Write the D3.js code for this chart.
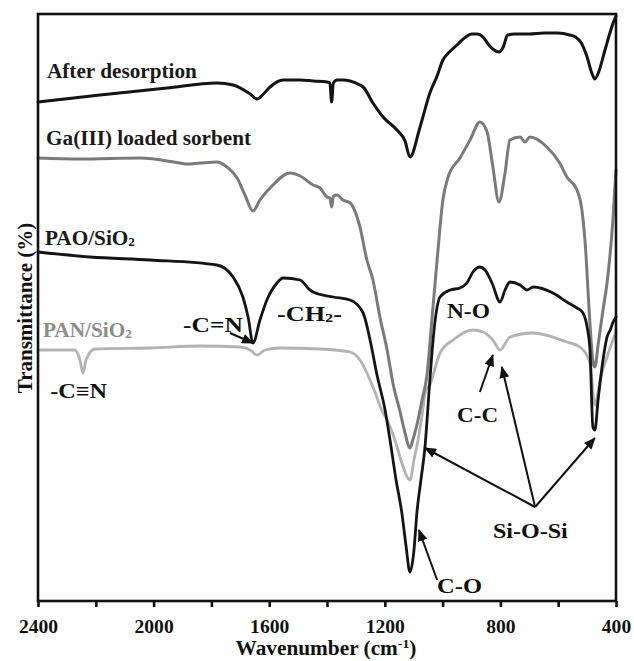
<!DOCTYPE html>
<html>
<head>
<meta charset="utf-8">
<script src="https://cdn.jsdelivr.net/npm/d3@7"></script>
<style>
  html, body { margin: 0; padding: 0; background: #fff; }
  svg text { font-family: "Liberation Serif", "Times New Roman", serif; font-weight: bold; }
</style>
</head>
<body>
<svg id="chart" width="634" height="661"></svg>
<script>
// FTIR spectra: [wavenumber (cm-1), transmittance (a.u., stacked offsets)]
const afterDesorption = [
  [2400,499],[2185,506],[1954,513],[1781,518],[1725,516],[1666,507],[1642,502],[1620,507],
  [1597,514],[1552,521],[1493,521],[1448,520],[1400,519],[1390,518],[1384,499],[1378,518],
  [1365,521],[1345,521],[1320,520],[1286,516],[1275,514],[1241,498],[1206,484],[1158,471],
  [1130,460],[1113,444],[1078,474],[1044,508],[1019,525],[999,541],[980,548],[950,556],
  [920,564],[900,567],[880,567],[860,564],[840,556],[822,551],[805,549],[790,554],[775,566],
  [750,567],[700,567],[650,568],[600,568],[560,566],[540,564],[520,558],[500,544],[485,529],
  [473,522],[460,529],[440,549],[420,569],[410,578],[400,585]
];

const gaLoaded = [
  [2400,443],[2255,442],[2047,443],[1909,438],[1885,437],[1839,438],[1781,439],[1746,434],
  [1711,423],[1684,406],[1656,390],[1632,401],[1587,416],[1528,428],[1493,425],[1448,416],
  [1424,413],[1400,404],[1390,403],[1384,394],[1378,405],[1365,406],[1345,401],[1320,398],
  [1286,374],[1262,341],[1241,321],[1217,284],[1192,251],[1172,218],[1147,189],[1130,168],
  [1113,153],[1103,161],[1089,176],[1071,201],[1054,226],[1037,281],[1019,341],[999,401],
  [981,424],[940,443],[905,461],[871,479],[846,469],[826,434],[805,399],[784,428],
  [767,461],[732,464],[715,459],[698,464],[639,454],[595,438],[570,424],[535,411],[518,391],
  [505,351],[495,301],[485,256],[478,236],[473,234],[462,256],[445,291],[431,318],[410,384],
  [400,431]
];

const paoSiO2 = [
  [2400,349],[2220,344],[2012,341],[1781,336],[1725,324],[1691,304],[1673,284],[1656,258],
  [1632,281],[1608,301],[1573,318],[1552,323],[1493,321],[1459,311],[1448,309],[1379,304],
  [1320,301],[1275,288],[1251,261],[1227,226],[1199,191],[1182,161],[1161,121],[1141,88],
  [1127,56],[1113,29],[1099,51],[1089,88],[1075,121],[1061,154],[1044,221],[1033,261],
  [1009,304],[974,311],[940,313],[916,318],[895,329],[871,334],[853,331],[829,318],[801,299],
  [784,311],[767,319],[732,316],[708,311],[687,314],[618,308],[570,299],[535,293],[514,288],
  [500,274],[490,251],[480,174],[473,171],[462,201],[445,241],[431,264],[420,271],[410,279],
  [400,284]
];

const panSiO2 = [
  [2400,251],[2272,251],[2255,241],[2244,228],[2234,241],[2203,252],[2012,253],[1839,255],
  [1701,254],[1666,251],[1642,246],[1615,251],[1563,253],[1424,252],[1320,249],[1286,241],
  [1241,214],[1206,188],[1192,181],[1165,161],[1141,138],[1113,121],[1099,141],[1085,161],
  [1071,186],[1058,211],[1044,216],[1020,239],[1009,248],[964,261],[895,271],[860,269],
  [826,261],[801,251],[767,264],[687,268],[570,259],[525,254],[490,238],[473,196],[455,221],
  [431,244],[400,269]
];

const xTicks = [2400, 2200, 2000, 1800, 1600, 1400, 1200, 1000, 800, 600, 400];
const xTickLabels = ["2400", "", "2000", "", "1600", "", "1200", "", "800", "", "400"];

// Spectrum names and band assignments, anchored in (wavenumber, transmittance)
const seriesLabels = [
  { text: "After desorption",        wn: 2369, t: 523, width: 150, fill: "#1a1a1a" },
  { text: "Ga(III) loaded sorbent",  wn: 2372, t: 456, width: 205, fill: "#1a1a1a" },
  { text: "PAO/SiO", sub: "2",       wn: 2376, t: 356, width: 90,  fill: "#1a1a1a" },
  { text: "PAN/SiO", sub: "2",       wn: 2383, t: 264, width: 89,  fill: "#8c8c8c" }
];
const bandLabels = [
  { text: "-C≡N",            wn: 2358, t: 203, width: 57 },
  { text: "-C=N",            wn: 1898, t: 269, width: 60 },
  { text: "-CH", sub: "2", tail: "-", wn: 1573, t: 280, width: 65 },
  { text: "N-O",             wn: 985,  t: 283, width: 43 },
  { text: "C-C",             wn: 950,  t: 179, width: 41 },
  { text: "Si-O-Si",         wn: 826,  t: 63,  width: 75 },
  { text: "C-O",             wn: 1019, t: 8,   width: 45 }
];
const bandArrows = [
  { from: [1736, 268], to: [1656, 258] },
  { from: [871, 209],  to: [826, 246] },
  { from: [680, 94],   to: [1061, 153] },
  { from: [680, 94],   to: [795, 234] },
  { from: [680, 94],   to: [473, 163] },
  { from: [1019, 21],  to: [1082, 71] }
];

const svg = d3.select("#chart");
const plot = { left: 38, right: 616, top: 14, bottom: 601 };

const x = d3.scaleLinear().domain([2400, 400]).range([plot.left, plot.right]);
const y = d3.scaleLinear().domain([0, 587]).range([plot.bottom, plot.top]);

// arrowhead marker
svg.append("defs").append("marker")
  .attr("id", "head")
  .attr("markerUnits", "userSpaceOnUse")
  .attr("viewBox", "0 0 12 10")
  .attr("refX", 11).attr("refY", 5)
  .attr("markerWidth", 12).attr("markerHeight", 10)
  .attr("orient", "auto")
  .append("path").attr("d", "M0,0 L12,5 L0,10 Z").attr("fill", "#111");

const line = d3.line()
  .x(d => x(d[0]))
  .y(d => y(d[1]))
  .curve(d3.curveMonotoneX);

const spectra = [
  { data: panSiO2,         color: "#b3b3b3", width: 2.8 },
  { data: gaLoaded,        color: "#7a7a7a", width: 3 },
  { data: paoSiO2,         color: "#141414", width: 2.8 },
  { data: afterDesorption, color: "#141414", width: 3 }
];

svg.append("g").selectAll("path")
  .data(spectra)
  .join("path")
  .attr("d", d => line(d.data))
  .attr("fill", "none")
  .attr("stroke", d => d.color)
  .attr("stroke-width", d => d.width)
  .attr("stroke-linejoin", "round")
  .attr("stroke-linecap", "round");

// plot frame
svg.append("rect")
  .attr("x", plot.left).attr("y", plot.top)
  .attr("width", plot.right - plot.left).attr("height", plot.bottom - plot.top)
  .attr("fill", "none").attr("stroke", "#111").attr("stroke-width", 2.6);

// bottom axis: ticks every 200, labels every 400
const xAxis = d3.axisBottom(x)
  .tickValues(xTicks)
  .tickSize(6)
  .tickPadding(14)
  .tickFormat((d, i) => xTickLabels[i]);

const gx = svg.append("g")
  .attr("transform", `translate(0,${plot.bottom})`)
  .call(xAxis);
gx.select(".domain").remove();
gx.selectAll(".tick line").attr("stroke", "#111").attr("stroke-width", 2.6);
gx.selectAll(".tick text")
  .attr("fill", "#111")
  .style("font-size", "19px")
  .style("font-family", "'Liberation Serif', serif")
  .style("font-weight", "bold");

// stretch text horizontally to a given width, keeping its anchor point
function fitWidth(sel, width) {
  sel.each(function () {
    const node = this;
    const w = node.getComputedTextLength ? node.getComputedTextLength() : node.getBBox().width;
    const s = w > 0 ? width / w : 1;
    const tx = +node.getAttribute("data-x"), ty = +node.getAttribute("data-y");
    node.setAttribute("x", 0); node.setAttribute("y", 0);
    node.setAttribute("transform", `translate(${tx},${ty}) scale(${s},1)`);
  });
}

gx.selectAll(".tick text").each(function () {
  const t = d3.select(this);
  const label = t.text();
  if (!label) return;
  t.attr("data-x", 0).attr("data-y", 32).attr("dy", null);
  fitWidth(t, label.length * 9.8);
});

function drawLabel(g, d, size) {
  const t = g.append("text")
    .attr("data-x", x(d.wn)).attr("data-y", y(d.t))
    .attr("fill", d.fill || "#111")
    .style("font-size", size + "px");
  t.append("tspan").text(d.text);
  if (d.sub) {
    t.append("tspan").text(d.sub).style("font-size", (size * 0.62) + "px").attr("dy", 1);
  }
  if (d.tail) {
    t.append("tspan").text(d.tail).attr("dy", -1);
  }
  fitWidth(t, d.width);
}

const labels = svg.append("g");
seriesLabels.forEach(d => drawLabel(labels, d, 20));
bandLabels.forEach(d => drawLabel(labels, d, 20));

svg.append("g").selectAll("line")
  .data(bandArrows)
  .join("line")
  .attr("x1", d => x(d.from[0])).attr("y1", d => y(d.from[1]))
  .attr("x2", d => x(d.to[0])).attr("y2", d => y(d.to[1]))
  .attr("stroke", "#111").attr("stroke-width", 2)
  .attr("marker-end", "url(#head)");

// axis titles
const xt = svg.append("text")
  .attr("data-x", (plot.left + plot.right) / 2 - 1).attr("data-y", 655)
  .attr("text-anchor", "middle").attr("fill", "#111")
  .style("font-size", "20px");
xt.append("tspan").text("Wavenumber (cm");
xt.append("tspan").text("-1").style("font-size", "13px").attr("dy", -7);
xt.append("tspan").text(")").attr("dy", 7);
fitWidth(xt, 181);

svg.append("text")
  .attr("transform", "translate(32,308) rotate(-90)")
  .attr("text-anchor", "middle").attr("fill", "#111")
  .style("font-size", "21px")
  .text("Transmittance (%)");
</script>
</body>
</html>
